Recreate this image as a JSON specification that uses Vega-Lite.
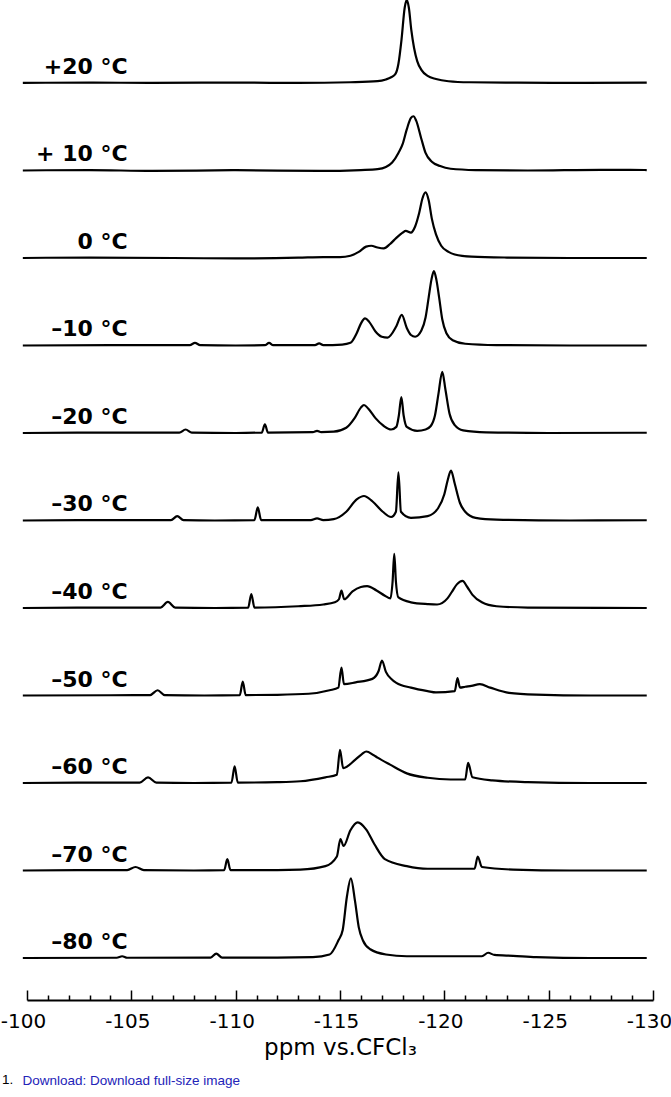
{
"$schema":"https://vega.github.io/schema/vega-lite/v6.json",
"autosize":{"type":"none"},
"width":626,"height":1000,
"padding":{"left":27,"top":0,"right":18,"bottom":97},
"background":"white",
"config":{"view":{"stroke":null}},
"title":{"text":"1.","orient":"bottom","anchor":"start","frame":"group","font":"Liberation Sans","fontSize":13.5,"fontWeight":"normal","color":"#000","offset":0,"dx":-25,"dy":-14},
"data":{"values":[
{"t":"+20 °C","ppm":-99.8,"i":0},{"t":"+20 °C","ppm":-103,"i":0.005},{"t":"+20 °C","ppm":-106,"i":0},{"t":"+20 °C","ppm":-110,"i":0.005},{"t":"+20 °C","ppm":-113,"i":0},{"t":"+20 °C","ppm":-115.5,"i":0.008},{"t":"+20 °C","ppm":-116.8,"i":0.02},{"t":"+20 °C","ppm":-117.2,"i":0.04},{"t":"+20 °C","ppm":-117.45,"i":0.065},{"t":"+20 °C","ppm":-117.65,"i":0.1},{"t":"+20 °C","ppm":-117.8,"i":0.22},{"t":"+20 °C","ppm":-117.95,"i":0.5},{"t":"+20 °C","ppm":-118.1,"i":0.86},{"t":"+20 °C","ppm":-118.2,"i":0.95},{"t":"+20 °C","ppm":-118.3,"i":0.86},{"t":"+20 °C","ppm":-118.42,"i":0.6},{"t":"+20 °C","ppm":-118.55,"i":0.4},{"t":"+20 °C","ppm":-118.7,"i":0.25},{"t":"+20 °C","ppm":-118.9,"i":0.15},{"t":"+20 °C","ppm":-119.2,"i":0.08},{"t":"+20 °C","ppm":-119.6,"i":0.045},{"t":"+20 °C","ppm":-120.2,"i":0.02},{"t":"+20 °C","ppm":-121.2,"i":0.008},{"t":"+20 °C","ppm":-123.5,"i":0.003},{"t":"+20 °C","ppm":-126,"i":0},{"t":"+20 °C","ppm":-129.7,"i":0.005},
{"t":"+ 10 °C","ppm":-99.8,"i":0},{"t":"+ 10 °C","ppm":-103,"i":0.005},{"t":"+ 10 °C","ppm":-106,"i":-0.005},{"t":"+ 10 °C","ppm":-110,"i":0.003},{"t":"+ 10 °C","ppm":-114,"i":-0.005},{"t":"+ 10 °C","ppm":-116,"i":0.005},{"t":"+ 10 °C","ppm":-116.8,"i":0.015},{"t":"+ 10 °C","ppm":-117.2,"i":0.04},{"t":"+ 10 °C","ppm":-117.5,"i":0.09},{"t":"+ 10 °C","ppm":-117.8,"i":0.2},{"t":"+ 10 °C","ppm":-118.0,"i":0.3},{"t":"+ 10 °C","ppm":-118.2,"i":0.47},{"t":"+ 10 °C","ppm":-118.4,"i":0.6},{"t":"+ 10 °C","ppm":-118.52,"i":0.62},{"t":"+ 10 °C","ppm":-118.65,"i":0.57},{"t":"+ 10 °C","ppm":-118.9,"i":0.36},{"t":"+ 10 °C","ppm":-119.1,"i":0.2},{"t":"+ 10 °C","ppm":-119.4,"i":0.1},{"t":"+ 10 °C","ppm":-119.8,"i":0.05},{"t":"+ 10 °C","ppm":-120.3,"i":0.02},{"t":"+ 10 °C","ppm":-121.5,"i":0.005},{"t":"+ 10 °C","ppm":-124,"i":0},{"t":"+ 10 °C","ppm":-127.5,"i":0.008},{"t":"+ 10 °C","ppm":-129.7,"i":0.005},
{"t":"0 °C","ppm":-99.8,"i":0},{"t":"0 °C","ppm":-103,"i":0.005},{"t":"0 °C","ppm":-107,"i":0},{"t":"0 °C","ppm":-110,"i":-0.005},{"t":"0 °C","ppm":-113,"i":0.003},{"t":"0 °C","ppm":-114.2,"i":0.01},{"t":"0 °C","ppm":-115.0,"i":0.01},{"t":"0 °C","ppm":-115.5,"i":0.025},{"t":"0 °C","ppm":-115.9,"i":0.07},{"t":"0 °C","ppm":-116.25,"i":0.13},{"t":"0 °C","ppm":-116.5,"i":0.14},{"t":"0 °C","ppm":-116.8,"i":0.12},{"t":"0 °C","ppm":-117.1,"i":0.11},{"t":"0 °C","ppm":-117.4,"i":0.16},{"t":"0 °C","ppm":-117.7,"i":0.23},{"t":"0 °C","ppm":-118.0,"i":0.29},{"t":"0 °C","ppm":-118.15,"i":0.31},{"t":"0 °C","ppm":-118.4,"i":0.29},{"t":"0 °C","ppm":-118.6,"i":0.36},{"t":"0 °C","ppm":-118.8,"i":0.52},{"t":"0 °C","ppm":-118.95,"i":0.68},{"t":"0 °C","ppm":-119.1,"i":0.75},{"t":"0 °C","ppm":-119.25,"i":0.66},{"t":"0 °C","ppm":-119.4,"i":0.45},{"t":"0 °C","ppm":-119.6,"i":0.27},{"t":"0 °C","ppm":-119.85,"i":0.14},{"t":"0 °C","ppm":-120.2,"i":0.07},{"t":"0 °C","ppm":-120.5,"i":0.04},{"t":"0 °C","ppm":-121.3,"i":0.015},{"t":"0 °C","ppm":-123,"i":0.005},{"t":"0 °C","ppm":-126,"i":0},{"t":"0 °C","ppm":-129.7,"i":0},
{"t":"–10 °C","ppm":-99.8,"i":0},{"t":"–10 °C","ppm":-104,"i":0.003},{"t":"–10 °C","ppm":-107.8,"i":0.005},{"t":"–10 °C","ppm":-108.05,"i":0.03},{"t":"–10 °C","ppm":-108.3,"i":0.005},{"t":"–10 °C","ppm":-110,"i":0},{"t":"–10 °C","ppm":-111.4,"i":0.003},{"t":"–10 °C","ppm":-111.6,"i":0.03},{"t":"–10 °C","ppm":-111.8,"i":0.003},{"t":"–10 °C","ppm":-113.8,"i":0.003},{"t":"–10 °C","ppm":-114.0,"i":0.025},{"t":"–10 °C","ppm":-114.2,"i":0.003},{"t":"–10 °C","ppm":-115.1,"i":0.01},{"t":"–10 °C","ppm":-115.5,"i":0.03},{"t":"–10 °C","ppm":-115.8,"i":0.14},{"t":"–10 °C","ppm":-116.0,"i":0.25},{"t":"–10 °C","ppm":-116.2,"i":0.31},{"t":"–10 °C","ppm":-116.4,"i":0.27},{"t":"–10 °C","ppm":-116.7,"i":0.16},{"t":"–10 °C","ppm":-117.0,"i":0.1},{"t":"–10 °C","ppm":-117.28,"i":0.09},{"t":"–10 °C","ppm":-117.7,"i":0.22},{"t":"–10 °C","ppm":-117.96,"i":0.35},{"t":"–10 °C","ppm":-118.2,"i":0.2},{"t":"–10 °C","ppm":-118.4,"i":0.12},{"t":"–10 °C","ppm":-118.6,"i":0.1},{"t":"–10 °C","ppm":-118.9,"i":0.17},{"t":"–10 °C","ppm":-119.1,"i":0.32},{"t":"–10 °C","ppm":-119.25,"i":0.55},{"t":"–10 °C","ppm":-119.38,"i":0.75},{"t":"–10 °C","ppm":-119.5,"i":0.85},{"t":"–10 °C","ppm":-119.62,"i":0.75},{"t":"–10 °C","ppm":-119.75,"i":0.55},{"t":"–10 °C","ppm":-119.9,"i":0.3},{"t":"–10 °C","ppm":-120.1,"i":0.14},{"t":"–10 °C","ppm":-120.4,"i":0.06},{"t":"–10 °C","ppm":-121,"i":0.02},{"t":"–10 °C","ppm":-122.5,"i":0.005},{"t":"–10 °C","ppm":-126,"i":0},{"t":"–10 °C","ppm":-129.7,"i":0},
{"t":"–20 °C","ppm":-99.8,"i":0},{"t":"–20 °C","ppm":-104,"i":0.005},{"t":"–20 °C","ppm":-107.3,"i":0.005},{"t":"–20 °C","ppm":-107.6,"i":0.04},{"t":"–20 °C","ppm":-107.9,"i":0.005},{"t":"–20 °C","ppm":-110,"i":0},{"t":"–20 °C","ppm":-111.25,"i":0.005},{"t":"–20 °C","ppm":-111.4,"i":0.1},{"t":"–20 °C","ppm":-111.55,"i":0.005},{"t":"–20 °C","ppm":-113.7,"i":0.01},{"t":"–20 °C","ppm":-113.9,"i":0.025},{"t":"–20 °C","ppm":-114.1,"i":0.01},{"t":"–20 °C","ppm":-114.7,"i":0.015},{"t":"–20 °C","ppm":-115.3,"i":0.06},{"t":"–20 °C","ppm":-115.7,"i":0.17},{"t":"–20 °C","ppm":-116.0,"i":0.29},{"t":"–20 °C","ppm":-116.15,"i":0.32},{"t":"–20 °C","ppm":-116.35,"i":0.28},{"t":"–20 °C","ppm":-116.7,"i":0.17},{"t":"–20 °C","ppm":-117.1,"i":0.08},{"t":"–20 °C","ppm":-117.45,"i":0.04},{"t":"–20 °C","ppm":-117.7,"i":0.07},{"t":"–20 °C","ppm":-117.82,"i":0.2},{"t":"–20 °C","ppm":-117.94,"i":0.41},{"t":"–20 °C","ppm":-118.05,"i":0.2},{"t":"–20 °C","ppm":-118.2,"i":0.07},{"t":"–20 °C","ppm":-118.7,"i":0.025},{"t":"–20 °C","ppm":-119.1,"i":0.04},{"t":"–20 °C","ppm":-119.35,"i":0.08},{"t":"–20 °C","ppm":-119.55,"i":0.2},{"t":"–20 °C","ppm":-119.72,"i":0.45},{"t":"–20 °C","ppm":-119.9,"i":0.7},{"t":"–20 °C","ppm":-120.05,"i":0.5},{"t":"–20 °C","ppm":-120.25,"i":0.22},{"t":"–20 °C","ppm":-120.5,"i":0.09},{"t":"–20 °C","ppm":-120.9,"i":0.03},{"t":"–20 °C","ppm":-122,"i":0.008},{"t":"–20 °C","ppm":-125,"i":0},{"t":"–20 °C","ppm":-129.7,"i":0.003},
{"t":"–30 °C","ppm":-99.8,"i":0},{"t":"–30 °C","ppm":-104,"i":0.005},{"t":"–30 °C","ppm":-106.9,"i":0.005},{"t":"–30 °C","ppm":-107.2,"i":0.05},{"t":"–30 °C","ppm":-107.5,"i":0.005},{"t":"–30 °C","ppm":-109,"i":0},{"t":"–30 °C","ppm":-110.9,"i":0.005},{"t":"–30 °C","ppm":-111.06,"i":0.15},{"t":"–30 °C","ppm":-111.22,"i":0.005},{"t":"–30 °C","ppm":-113.6,"i":0.005},{"t":"–30 °C","ppm":-113.9,"i":0.025},{"t":"–30 °C","ppm":-114.2,"i":0.005},{"t":"–30 °C","ppm":-114.7,"i":0.015},{"t":"–30 °C","ppm":-115.3,"i":0.1},{"t":"–30 °C","ppm":-115.8,"i":0.24},{"t":"–30 °C","ppm":-116.15,"i":0.28},{"t":"–30 °C","ppm":-116.55,"i":0.22},{"t":"–30 °C","ppm":-117.05,"i":0.1},{"t":"–30 °C","ppm":-117.45,"i":0.04},{"t":"–30 °C","ppm":-117.68,"i":0.1},{"t":"–30 °C","ppm":-117.8,"i":0.55},{"t":"–30 °C","ppm":-117.92,"i":0.1},{"t":"–30 °C","ppm":-118.4,"i":0.03},{"t":"–30 °C","ppm":-119.2,"i":0.05},{"t":"–30 °C","ppm":-119.7,"i":0.14},{"t":"–30 °C","ppm":-120.0,"i":0.3},{"t":"–30 °C","ppm":-120.16,"i":0.46},{"t":"–30 °C","ppm":-120.32,"i":0.57},{"t":"–30 °C","ppm":-120.5,"i":0.42},{"t":"–30 °C","ppm":-120.75,"i":0.2},{"t":"–30 °C","ppm":-121.0,"i":0.1},{"t":"–30 °C","ppm":-121.5,"i":0.03},{"t":"–30 °C","ppm":-122.5,"i":0.01},{"t":"–30 °C","ppm":-126,"i":0},{"t":"–30 °C","ppm":-129.7,"i":0.003},
{"t":"–40 °C","ppm":-99.8,"i":0},{"t":"–40 °C","ppm":-104,"i":0.005},{"t":"–40 °C","ppm":-106.4,"i":0.005},{"t":"–40 °C","ppm":-106.75,"i":0.07},{"t":"–40 °C","ppm":-107.1,"i":0.005},{"t":"–40 °C","ppm":-109,"i":0},{"t":"–40 °C","ppm":-110.6,"i":0.005},{"t":"–40 °C","ppm":-110.75,"i":0.16},{"t":"–40 °C","ppm":-110.9,"i":0.005},{"t":"–40 °C","ppm":-113,"i":0.02},{"t":"–40 °C","ppm":-114.2,"i":0.04},{"t":"–40 °C","ppm":-114.75,"i":0.065},{"t":"–40 °C","ppm":-114.95,"i":0.1},{"t":"–40 °C","ppm":-115.07,"i":0.2},{"t":"–40 °C","ppm":-115.2,"i":0.1},{"t":"–40 °C","ppm":-115.6,"i":0.19},{"t":"–40 °C","ppm":-116.0,"i":0.24},{"t":"–40 °C","ppm":-116.3,"i":0.25},{"t":"–40 °C","ppm":-116.75,"i":0.2},{"t":"–40 °C","ppm":-117.15,"i":0.14},{"t":"–40 °C","ppm":-117.42,"i":0.11},{"t":"–40 °C","ppm":-117.52,"i":0.3},{"t":"–40 °C","ppm":-117.6,"i":0.62},{"t":"–40 °C","ppm":-117.68,"i":0.3},{"t":"–40 °C","ppm":-117.8,"i":0.12},{"t":"–40 °C","ppm":-118.4,"i":0.065},{"t":"–40 °C","ppm":-119.2,"i":0.045},{"t":"–40 °C","ppm":-119.65,"i":0.04},{"t":"–40 °C","ppm":-120.15,"i":0.11},{"t":"–40 °C","ppm":-120.35,"i":0.18},{"t":"–40 °C","ppm":-120.6,"i":0.27},{"t":"–40 °C","ppm":-120.87,"i":0.31},{"t":"–40 °C","ppm":-121.1,"i":0.24},{"t":"–40 °C","ppm":-121.35,"i":0.15},{"t":"–40 °C","ppm":-121.8,"i":0.065},{"t":"–40 °C","ppm":-122.5,"i":0.02},{"t":"–40 °C","ppm":-124,"i":0.005},{"t":"–40 °C","ppm":-129.7,"i":0},
{"t":"–50 °C","ppm":-99.8,"i":0},{"t":"–50 °C","ppm":-104,"i":0.003},{"t":"–50 °C","ppm":-105.9,"i":0.005},{"t":"–50 °C","ppm":-106.26,"i":0.06},{"t":"–50 °C","ppm":-106.6,"i":0.005},{"t":"–50 °C","ppm":-108.5,"i":0},{"t":"–50 °C","ppm":-110.2,"i":0.005},{"t":"–50 °C","ppm":-110.34,"i":0.16},{"t":"–50 °C","ppm":-110.48,"i":0.005},{"t":"–50 °C","ppm":-112,"i":0.008},{"t":"–50 °C","ppm":-113.5,"i":0.02},{"t":"–50 °C","ppm":-114.5,"i":0.06},{"t":"–50 °C","ppm":-114.92,"i":0.09},{"t":"–50 °C","ppm":-115.07,"i":0.32},{"t":"–50 °C","ppm":-115.19,"i":0.13},{"t":"–50 °C","ppm":-115.75,"i":0.15},{"t":"–50 °C","ppm":-116.55,"i":0.19},{"t":"–50 °C","ppm":-116.85,"i":0.28},{"t":"–50 °C","ppm":-117.01,"i":0.4},{"t":"–50 °C","ppm":-117.2,"i":0.27},{"t":"–50 °C","ppm":-117.5,"i":0.18},{"t":"–50 °C","ppm":-117.7,"i":0.145},{"t":"–50 °C","ppm":-118.4,"i":0.09},{"t":"–50 °C","ppm":-119.2,"i":0.05},{"t":"–50 °C","ppm":-119.6,"i":0.035},{"t":"–50 °C","ppm":-120.5,"i":0.05},{"t":"–50 °C","ppm":-120.63,"i":0.2},{"t":"–50 °C","ppm":-120.75,"i":0.09},{"t":"–50 °C","ppm":-121.0,"i":0.1},{"t":"–50 °C","ppm":-121.3,"i":0.11},{"t":"–50 °C","ppm":-121.7,"i":0.13},{"t":"–50 °C","ppm":-122.2,"i":0.09},{"t":"–50 °C","ppm":-123.1,"i":0.03},{"t":"–50 °C","ppm":-124.4,"i":0.01},{"t":"–50 °C","ppm":-127,"i":0},{"t":"–50 °C","ppm":-129.7,"i":0},
{"t":"–60 °C","ppm":-99.8,"i":0},{"t":"–60 °C","ppm":-104,"i":0.005},{"t":"–60 °C","ppm":-105.4,"i":0.005},{"t":"–60 °C","ppm":-105.8,"i":0.065},{"t":"–60 °C","ppm":-106.2,"i":0.005},{"t":"–60 °C","ppm":-108,"i":0},{"t":"–60 °C","ppm":-109.8,"i":0.005},{"t":"–60 °C","ppm":-109.95,"i":0.19},{"t":"–60 °C","ppm":-110.1,"i":0.005},{"t":"–60 °C","ppm":-112,"i":0.01},{"t":"–60 °C","ppm":-113.1,"i":0.02},{"t":"–60 °C","ppm":-114.3,"i":0.065},{"t":"–60 °C","ppm":-114.85,"i":0.095},{"t":"–60 °C","ppm":-115.0,"i":0.38},{"t":"–60 °C","ppm":-115.15,"i":0.17},{"t":"–60 °C","ppm":-115.75,"i":0.27},{"t":"–60 °C","ppm":-116.05,"i":0.33},{"t":"–60 °C","ppm":-116.26,"i":0.36},{"t":"–60 °C","ppm":-116.6,"i":0.32},{"t":"–60 °C","ppm":-116.8,"i":0.29},{"t":"–60 °C","ppm":-117.4,"i":0.21},{"t":"–60 °C","ppm":-118.2,"i":0.11},{"t":"–60 °C","ppm":-119.2,"i":0.06},{"t":"–60 °C","ppm":-120.3,"i":0.04},{"t":"–60 °C","ppm":-121.0,"i":0.04},{"t":"–60 °C","ppm":-121.14,"i":0.23},{"t":"–60 °C","ppm":-121.35,"i":0.065},{"t":"–60 °C","ppm":-122.3,"i":0.03},{"t":"–60 °C","ppm":-124,"i":0.01},{"t":"–60 °C","ppm":-127,"i":0},{"t":"–60 °C","ppm":-129.7,"i":0},
{"t":"–70 °C","ppm":-99.8,"i":0},{"t":"–70 °C","ppm":-104,"i":0.005},{"t":"–70 °C","ppm":-104.8,"i":0.005},{"t":"–70 °C","ppm":-105.2,"i":0.04},{"t":"–70 °C","ppm":-105.6,"i":0.005},{"t":"–70 °C","ppm":-108,"i":0},{"t":"–70 °C","ppm":-109.45,"i":0.005},{"t":"–70 °C","ppm":-109.6,"i":0.13},{"t":"–70 °C","ppm":-109.75,"i":0.005},{"t":"–70 °C","ppm":-112,"i":0.005},{"t":"–70 °C","ppm":-113.1,"i":0.01},{"t":"–70 °C","ppm":-114.3,"i":0.05},{"t":"–70 °C","ppm":-114.85,"i":0.16},{"t":"–70 °C","ppm":-115.02,"i":0.36},{"t":"–70 °C","ppm":-115.17,"i":0.28},{"t":"–70 °C","ppm":-115.5,"i":0.46},{"t":"–70 °C","ppm":-115.85,"i":0.55},{"t":"–70 °C","ppm":-116.25,"i":0.47},{"t":"–70 °C","ppm":-116.65,"i":0.3},{"t":"–70 °C","ppm":-117.15,"i":0.13},{"t":"–70 °C","ppm":-118.2,"i":0.05},{"t":"–70 °C","ppm":-119.2,"i":0.02},{"t":"–70 °C","ppm":-121.45,"i":0.02},{"t":"–70 °C","ppm":-121.6,"i":0.16},{"t":"–70 °C","ppm":-121.8,"i":0.04},{"t":"–70 °C","ppm":-123.3,"i":0.01},{"t":"–70 °C","ppm":-126,"i":0},{"t":"–70 °C","ppm":-129.7,"i":0},
{"t":"–80 °C","ppm":-99.8,"i":0},{"t":"–80 °C","ppm":-104.3,"i":0.003},{"t":"–80 °C","ppm":-104.56,"i":0.02},{"t":"–80 °C","ppm":-104.8,"i":0.003},{"t":"–80 °C","ppm":-108.8,"i":0.005},{"t":"–80 °C","ppm":-109.07,"i":0.05},{"t":"–80 °C","ppm":-109.35,"i":0.005},{"t":"–80 °C","ppm":-112,"i":0.005},{"t":"–80 °C","ppm":-113.7,"i":0.01},{"t":"–80 °C","ppm":-114.5,"i":0.04},{"t":"–80 °C","ppm":-114.92,"i":0.2},{"t":"–80 °C","ppm":-115.13,"i":0.32},{"t":"–80 °C","ppm":-115.33,"i":0.7},{"t":"–80 °C","ppm":-115.52,"i":0.91},{"t":"–80 °C","ppm":-115.72,"i":0.65},{"t":"–80 °C","ppm":-115.9,"i":0.35},{"t":"–80 °C","ppm":-116.1,"i":0.2},{"t":"–80 °C","ppm":-116.45,"i":0.1},{"t":"–80 °C","ppm":-117.2,"i":0.04},{"t":"–80 °C","ppm":-118.2,"i":0.02},{"t":"–80 °C","ppm":-121.8,"i":0.02},{"t":"–80 °C","ppm":-122.1,"i":0.06},{"t":"–80 °C","ppm":-122.4,"i":0.035},{"t":"–80 °C","ppm":-123.3,"i":0.025},{"t":"–80 °C","ppm":-124.4,"i":0.01},{"t":"–80 °C","ppm":-127,"i":0},{"t":"–80 °C","ppm":-129.7,"i":0}
]},
"layer":[
{"mark":{"type":"line","color":"#000","strokeWidth":2.2,"interpolate":"monotone","clip":false},
 "encoding":{
  "x":{"field":"ppm","type":"quantitative","scale":{"domain":[-100,-130],"nice":false,"zero":false},
   "axis":{"orient":"bottom","values":[-100,-105,-110,-115,-120,-125,-130],"tickSize":-10,"tickWidth":1.5,"tickColor":"#000","domainColor":"#000","domainWidth":2,"grid":false,
    "labelFont":"DejaVu Sans","labelFontSize":20,"labelColor":"#000","labelPadding":21,"labelOffset":-4,"labelFlush":false,"labelOverlap":false,"labelExpr":"'-' + abs(datum.value)",
    "title":"ppm vs.CFCl₃","titleFont":"DejaVu Sans","titleFontSize":23,"titleFontWeight":"normal","titleColor":"#000","titlePadding":5}},
  "y":{"field":"t","type":"nominal","sort":["+20 °C","+ 10 °C","0 °C","–10 °C","–20 °C","–30 °C","–40 °C","–50 °C","–60 °C","–70 °C","–80 °C"],"scale":{"type":"point","padding":0.714,"align":0.664},"axis":null},
  "yOffset":{"field":"i","type":"quantitative","scale":{"domain":[0,1],"range":[0,-87.5],"zero":false,"nice":false}},
  "detail":{"field":"t"},
  "order":{"field":"ppm","sort":"descending"}
 }},
{"transform":[{"aggregate":[{"op":"count","as":"n"}],"groupby":["t"]}],
 "mark":{"type":"text","align":"right","baseline":"alphabetic","dy":-9,"font":"DejaVu Sans","fontSize":22,"fontWeight":"bold","color":"#000"},
 "encoding":{
  "x":{"datum":-104.82,"type":"quantitative","axis":{"orient":"bottom","values":[-101,-102,-103,-104,-106,-107,-108,-109,-111,-112,-113,-114,-116,-117,-118,-119,-121,-122,-123,-124,-126,-127,-128,-129],"tickSize":-5,"tickWidth":1.5,"tickColor":"#000","domain":false,"labels":false,"grid":false,
    "title":"Download: Download full-size image","titleFont":"Liberation Sans","titleFontSize":13.5,"titleFontWeight":"normal","titleColor":"#2323b8","titleX":-5,"titleY":80,"titleAlign":"left","titleBaseline":"middle","titleAnchor":null}},
  "y":{"field":"t","type":"nominal","sort":["+20 °C","+ 10 °C","0 °C","–10 °C","–20 °C","–30 °C","–40 °C","–50 °C","–60 °C","–70 °C","–80 °C"],"axis":null},
  "text":{"field":"t"}
 }}
],
"resolve":{"axis":{"x":"independent"}}
}
